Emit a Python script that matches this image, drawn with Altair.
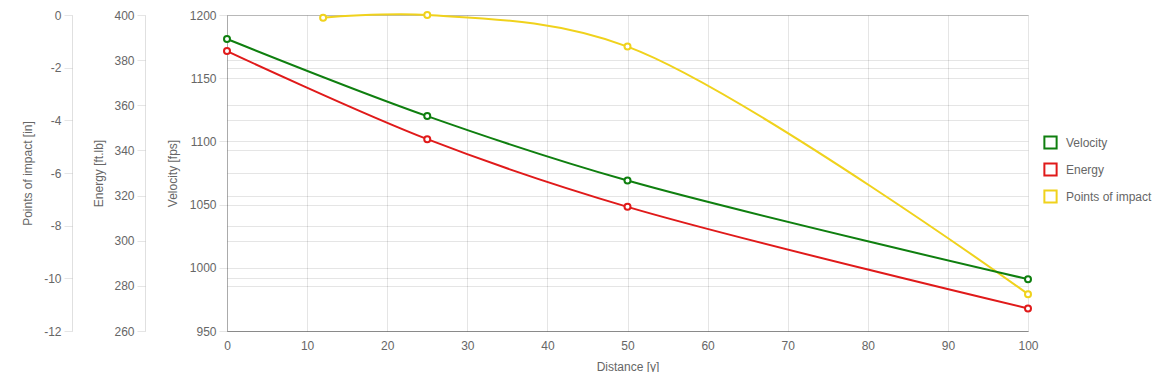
import altair as alt
import pandas as pd

# Data
distance = [0, 25, 50, 100]
velocity = [1181, 1120, 1069, 991]
energy = [384, 345, 315, 270]
poi_distance = [12, 25, 50, 100]
poi = [-0.1, 0.0, -1.2, -10.6]

series_names = ["Velocity", "Energy", "Points of impact"]
series_colors = ["#0f7f0f", "#e01a1a", "#f0d21c"]

velocity_ticks = [950, 1000, 1050, 1100, 1150, 1200]
energy_ticks = [260, 280, 300, 320, 340, 360, 380, 400]
poi_ticks = [0, -2, -4, -6, -8, -10, -12]
x_ticks = [0, 10, 20, 30, 40, 50, 60, 70, 80, 90, 100]

rows = []
for d, v in zip(distance, velocity):
    rows.append({"distance": d, "value": v, "series": "Velocity"})
for d, v in zip(distance, energy):
    rows.append({"distance": d, "value": v, "series": "Energy"})
for d, v in zip(poi_distance, poi):
    rows.append({"distance": d, "value": v, "series": "Points of impact"})
df = pd.DataFrame(rows)

FONT = "Liberation Sans"
LABEL_COLOR = "#666666"

x_enc = alt.X(
    "distance:Q",
    scale=alt.Scale(domain=[0, 100], nice=False, zero=False),
    axis=alt.Axis(
        values=x_ticks, title="Distance [y]", grid=True, gridColor="#000000",
        gridOpacity=0.1, tickSize=0, labelPadding=9, domainColor="#000000",
        domainOpacity=0.25, titlePadding=10, labelFlush=False,
        labelExpr="'' + datum.value",
    ),
)

color_enc = alt.Color(
    "series:N",
    scale=alt.Scale(domain=series_names, range=series_colors),
    legend=alt.Legend(
        title=None, orient="none", legendX=816, legendY=120,
        symbolType="square", symbolSize=150, symbolStrokeWidth=2,
        rowPadding=6, labelFontSize=12, labelColor=LABEL_COLOR, labelFont=FONT,
        labelOffset=8, padding=0,
    ),
    sort=series_names,
)

point_def = alt.OverlayMarkDef(filled=False, fill="white", size=36, strokeWidth=2, opacity=1)


def layer(name, domain, ticks, title, offset, title_x, domain_opacity):
    return (
        alt.Chart(df)
        .transform_filter(alt.datum.series == name)
        .mark_line(interpolate="catmull-rom", strokeWidth=2, point=point_def)
        .encode(
            x=x_enc,
            y=alt.Y(
                "value:Q",
                scale=alt.Scale(domain=domain, nice=False, zero=False),
                axis=alt.Axis(
                    orient="left", offset=offset, values=ticks, title=title,
                    grid=True, gridColor="#000000", gridOpacity=0.1,
                    tickSize=8, tickColor="#000000", tickOpacity=0.1,
                    domainColor="#000000", domainOpacity=domain_opacity,
                    labelPadding=3, titleX=title_x, titleY=158,
                    titleBaseline="middle", titleAngle=-90,
                    labelExpr="'' + datum.value",
                ),
            ),
            color=color_enc,
        )
    )


vel_layer = layer("Velocity", [950, 1200], velocity_ticks, "Velocity [fps]", 0, -55, 0.25)
en_layer = layer("Energy", [260, 400], energy_ticks, "Energy [ft.lb]", 82, -47, 0.12)
poi_layer = layer("Points of impact", [-12, 0], poi_ticks, "Points of impact [in]", 155, -45, 0.12)

chart = (
    alt.layer(poi_layer, en_layer, vel_layer)
    .resolve_scale(y="independent")
    .resolve_axis(y="independent")
    .properties(width=801, height=316, padding={"left": 13, "top": 0, "right": 0, "bottom": 0})
    .configure(font=FONT)
    .configure_view(stroke=None)
    .configure_axis(
        labelFont=FONT, titleFont=FONT, labelFontSize=12, titleFontSize=12,
        labelColor=LABEL_COLOR, titleColor=LABEL_COLOR, titleFontWeight="normal",
    )
    .configure_legend(labelFont=FONT, labelFontSize=12, labelColor=LABEL_COLOR)
)

chart.save("out.html", embed_options={"renderer": "svg", "actions": False})
